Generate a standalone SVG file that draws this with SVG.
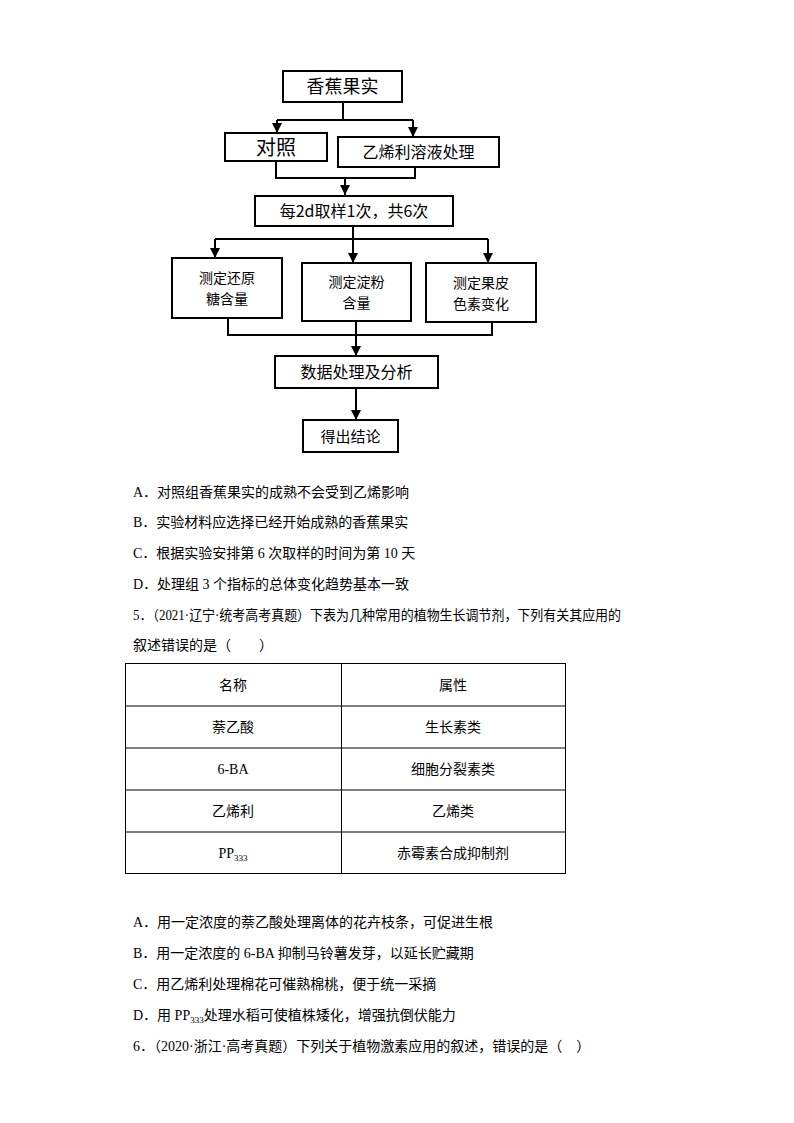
<svg xmlns="http://www.w3.org/2000/svg" width="794" height="1123" viewBox="0 0 794 1123">
<defs>
<marker id="ar" viewBox="0 0 10 10" refX="10" refY="5" markerWidth="10" markerHeight="10" markerUnits="userSpaceOnUse" orient="auto"><path d="M0,0 L10,5 L0,10 z" fill="#000"/></marker>
<style>
.b{fill:#fff;stroke:#000;stroke-width:2}
.l{fill:none;stroke:#000;stroke-width:2}
.t{font-family:"Noto Sans CJK SC","Liberation Serif",sans-serif;fill:#000;text-anchor:middle}
.q{font-family:"Liberation Serif","Noto Sans CJK SC",serif;font-size:14px;fill:#000}
.tb{fill:none;stroke:#000;stroke-width:1}
</style>
</defs>
<rect width="794" height="1123" fill="#fff"/>
<g id="connectors">
<path class="l" d="M343,102 V120 M277,120 H413"/>
<path class="l" d="M277,120 V133" marker-end="url(#ar)"/>
<path class="l" d="M413,120 V137" marker-end="url(#ar)"/>
<path class="l" d="M276,161 V178 H415 V167 M345,178 V195" marker-end="url(#ar)"/>
<path class="l" d="M353,226 V239 M215,239 H488"/>
<path class="l" d="M215,239 V258" marker-end="url(#ar)"/>
<path class="l" d="M353,239 V263" marker-end="url(#ar)"/>
<path class="l" d="M488,239 V263" marker-end="url(#ar)"/>
<path class="l" d="M228,318 V335 H492 V322"/>
<path class="l" d="M356,321 V356" marker-end="url(#ar)"/>
<path class="l" d="M356,388 V420" marker-end="url(#ar)"/>
</g>
<g id="n1"><rect class="b" x="283" y="71" width="119" height="31"/><text class="t" x="342.5" y="93" font-size="18">香蕉果实</text></g>
<g id="n2"><rect class="b" x="225" y="133" width="102" height="28"/><text class="t" x="276" y="155" font-size="20">对照</text></g>
<g id="n3"><rect class="b" x="338" y="137" width="161" height="30"/><text class="t" x="418.5" y="158" font-size="16">乙烯利溶液处理</text></g>
<g id="n4"><rect class="b" x="255" y="196" width="198" height="30"/><text class="t" x="354" y="217" font-size="16">每2d取样1次，共6次</text></g>
<g id="n5"><rect class="b" x="172" y="258" width="110" height="60"/><text class="t" x="227" y="283" font-size="14">测定还原</text><text class="t" x="227" y="304" font-size="14">糖含量</text></g>
<g id="n6"><rect class="b" x="302" y="263" width="109" height="58"/><text class="t" x="356.5" y="287" font-size="14">测定淀粉</text><text class="t" x="356.5" y="308" font-size="14">含量</text></g>
<g id="n7"><rect class="b" x="426" y="263" width="110" height="59"/><text class="t" x="481" y="288" font-size="14">测定果皮</text><text class="t" x="481" y="309" font-size="14">色素变化</text></g>
<g id="n8"><rect class="b" x="275" y="356" width="163" height="32"/><text class="t" x="356.5" y="378" font-size="16">数据处理及分析</text></g>
<g id="n9"><rect class="b" x="303" y="420" width="95" height="32"/><text class="t" x="350.5" y="442" font-size="15">得出结论</text></g>
<g id="q4">
<text class="q" x="133" y="497">A．对照组香蕉果实的成熟不会受到乙烯影响</text>
<text class="q" x="133" y="527">B．实验材料应选择已经开始成熟的香蕉果实</text>
<text class="q" x="133" y="558">C．根据实验安排第 6 次取样的时间为第 10 天</text>
<text class="q" x="133" y="589">D．处理组 3 个指标的总体变化趋势基本一致</text>
<text class="q" x="133" y="620" textLength="488" lengthAdjust="spacingAndGlyphs">5．（2021·辽宁·统考高考真题）下表为几种常用的植物生长调节剂，下列有关其应用的</text>
<text class="q" x="133" y="650">叙述错误的是（　　）</text>
</g>
<g id="table">
<rect class="tb" x="125.5" y="663.5" width="440" height="210"/>
<path class="tb" d="M341.5,663.5 V873.5 M125.5,706 H565.5 M125.5,748 H565.5 M125.5,790 H565.5 M125.5,832 H565.5"/>
<g class="q" text-anchor="middle">
<text x="233" y="690">名称</text><text x="453" y="690">属性</text>
<text x="233" y="732">萘乙酸</text><text x="453" y="732">生长素类</text>
<text x="233" y="774">6-BA</text><text x="453" y="774">细胞分裂素类</text>
<text x="233" y="816">乙烯利</text><text x="453" y="816">乙烯类</text>
<text x="233" y="858">PP<tspan font-size="9" dy="3">333</tspan></text><text x="453" y="858">赤霉素合成抑制剂</text>
</g>
</g>
<g id="q5">
<text class="q" x="133" y="927">A．用一定浓度的萘乙酸处理离体的花卉枝条，可促进生根</text>
<text class="q" x="133" y="958">B．用一定浓度的 6-BA 抑制马铃薯发芽，以延长贮藏期</text>
<text class="q" x="133" y="989">C．用乙烯利处理棉花可催熟棉桃，便于统一采摘</text>
<text class="q" x="133" y="1020">D．用 PP<tspan font-size="9" dy="3">333</tspan><tspan dy="-3">处理水稻可使植株矮化，增强抗倒伏能力</tspan></text>
<text class="q" x="133" y="1051">6．（2020·浙江·高考真题）下列关于植物激素应用的叙述，错误的是（　）</text>
</g>
</svg>
